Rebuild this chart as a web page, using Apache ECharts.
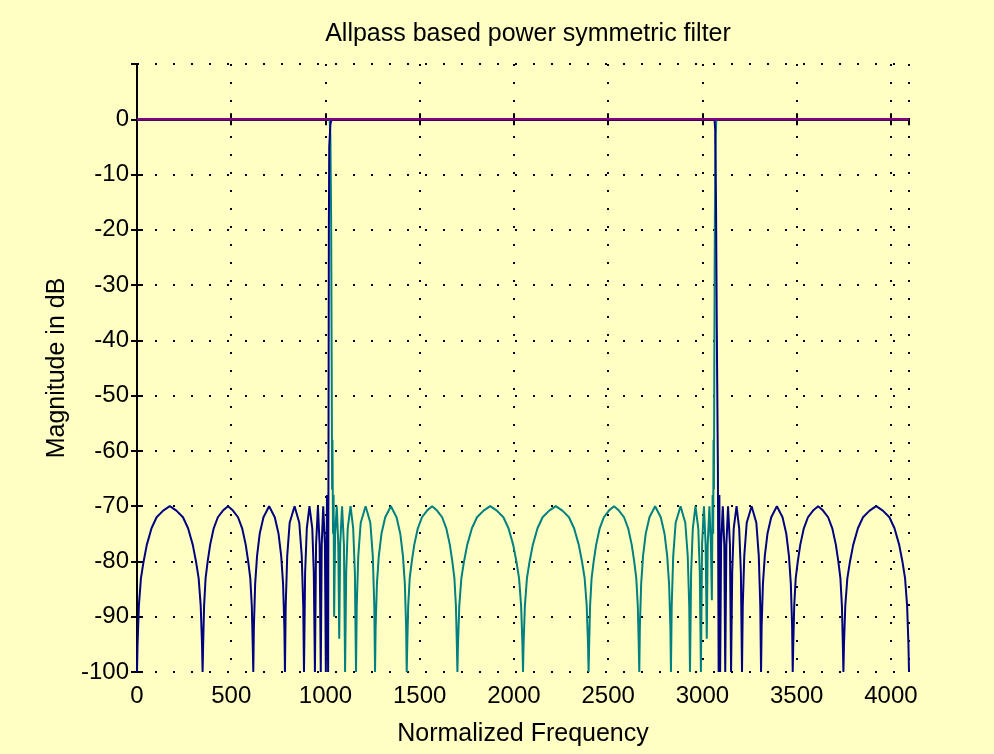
<!DOCTYPE html>
<html>
<head>
<meta charset="utf-8">
<script src="https://cdn.jsdelivr.net/npm/echarts@6/dist/echarts.min.js"></script>
<style>
html, body { margin: 0; padding: 0; background: #ffffc4; }
#chart { width: 994px; height: 754px; }
</style>
</head>
<body>
<div id="chart"></div>
<script>
// values
var xTicks = [0, 500, 1000, 1500, 2000, 2500, 3000, 3500, 4000];
var yTicks = [-100, -90, -80, -70, -60, -50, -40, -30, -20, -10, 0];

// navy curve (stopband at the two ends, passband in the middle)
var blueFreq = [
    0, 3, 10, 21, 35, 52, 77, 104, 139, 174, 209, 244, 271, 296, 313, 327, 338, 345, 348,
    351, 356, 364, 375, 388, 407, 429, 456, 483, 509, 536, 558, 577, 590, 601, 609, 614, 617,
    620, 627, 637, 651, 671, 701, 731, 751, 765, 775, 782, 785,
    789, 797, 810, 836, 861, 874, 882, 886,
    892, 901, 915, 930, 938, 944,
    950, 960, 969, 975,
    980, 988, 997, 1002,
    1008, 1014, 1016, 1018, 1020, 1026, 1032,
    3064,
    3068, 3072, 3076, 3082, 3086, 3090, 3094,
    3099, 3108, 3116, 3121,
    3127, 3136, 3146, 3152,
    3158, 3166, 3181, 3195, 3204, 3210,
    3214, 3222, 3235, 3261, 3286, 3299, 3307, 3311,
    3314, 3321, 3331, 3345, 3365, 3395, 3425, 3445, 3459, 3469, 3476, 3479,
    3482, 3487, 3495, 3506, 3519, 3538, 3560, 3587, 3614, 3640, 3667, 3689, 3708, 3721, 3732, 3740, 3745, 3748,
    3751, 3758, 3769, 3783, 3800, 3825, 3852, 3887, 3922, 3957, 3992, 4019, 4044, 4061, 4075, 4086, 4093, 4096
];
var blueMag = [
    -100, -95, -88, -83, -80, -77, -74, -72, -70.8, -70, -70.8, -72, -74, -77, -80, -83, -88, -95, -100,
    -95, -88, -83, -80, -77, -74, -72, -70.8, -70, -70.8, -72, -74, -77, -80, -83, -88, -95, -100,
    -92, -84, -79, -75, -72, -70, -72, -75, -79, -84, -92, -100,
    -88, -79, -73, -70, -73, -79, -88, -100,
    -82, -74, -70, -74, -82, -100,
    -77, -70, -77, -100,
    -77, -70, -77, -100,
    -68, -100, -60, -20, -5, -1, 0,
    0,
    -2, -15, -37, -63, -100, -68, -100,
    -77, -70, -77, -100,
    -77, -70, -77, -100,
    -82, -74, -70, -74, -82, -100,
    -88, -79, -73, -70, -73, -79, -88, -100,
    -92, -84, -79, -75, -72, -70, -72, -75, -79, -84, -92, -100,
    -95, -88, -83, -80, -77, -74, -72, -70.8, -70, -70.8, -72, -74, -77, -80, -83, -88, -95, -100,
    -95, -88, -83, -80, -77, -74, -72, -70.8, -70, -70.8, -72, -74, -77, -80, -83, -88, -95, -100
];

// teal curve (passband at the two ends, stopband in the middle)
var tealFreq = [
    0, 1022, 1026, 1030, 1033, 1035, 1037, 1040, 1043, 1046, 1051, 1060, 1068, 1073, 1078, 1088, 1098, 1104,
    1110, 1118, 1133, 1147, 1156, 1162,
    1166, 1174, 1187, 1213, 1238, 1251, 1259, 1263,
    1266, 1273, 1283, 1297, 1317, 1347, 1377, 1397, 1411, 1421, 1428, 1431,
    1434, 1439, 1447, 1458, 1471, 1490, 1512, 1539, 1566, 1592, 1619, 1641, 1660, 1673, 1684, 1692, 1697, 1700,
    1703, 1710, 1721, 1735, 1752, 1777, 1804, 1839, 1874, 1909, 1944, 1971, 1996, 2013, 2027, 2038, 2045, 2048,
    2051, 2058, 2069, 2083, 2100, 2125, 2152, 2187, 2222, 2257, 2292, 2319, 2344, 2361, 2375, 2386, 2393, 2396,
    2399, 2404, 2412, 2423, 2436, 2455, 2477, 2504, 2531, 2557, 2584, 2606, 2625, 2638, 2649, 2657, 2662, 2665,
    2668, 2675, 2685, 2699, 2719, 2749, 2779, 2799, 2813, 2823, 2830, 2833,
    2837, 2845, 2858, 2884, 2909, 2922, 2930, 2934,
    2940, 2949, 2963, 2978, 2986, 2992,
    2998, 3008, 3017, 3023,
    3028, 3037, 3045, 3050,
    3054, 3057, 3059, 3061, 3063, 3066, 3070, 3074, 4096
];
var tealMag = [
    0, 0, -3, -18, -45, -67, -58, -75, -68, -90, -75, -70, -77, -94, -77, -70, -77, -100,
    -82, -74, -70, -74, -82, -100,
    -88, -79, -73, -70, -73, -79, -88, -100,
    -92, -84, -79, -75, -72, -70, -72, -75, -79, -84, -92, -100,
    -95, -88, -83, -80, -77, -74, -72, -70.8, -70, -70.8, -72, -74, -77, -80, -83, -88, -95, -100,
    -95, -88, -83, -80, -77, -74, -72, -70.8, -70, -70.8, -72, -74, -77, -80, -83, -88, -95, -100,
    -95, -88, -83, -80, -77, -74, -72, -70.8, -70, -70.8, -72, -74, -77, -80, -83, -88, -95, -100,
    -95, -88, -83, -80, -77, -74, -72, -70.8, -70, -70.8, -72, -74, -77, -80, -83, -88, -95, -100,
    -92, -84, -79, -75, -72, -70, -72, -75, -79, -84, -92, -100,
    -88, -79, -73, -70, -73, -79, -88, -100,
    -82, -74, -70, -74, -82, -100,
    -77, -70, -77, -94,
    -77, -70, -77, -87,
    -68, -75, -58, -67, -45, -18, -3, 0, 0
];

// sum of the two, flat at 0 dB
var sumFreq = [0, 4096];
var sumMag = [0, 0];

function pairs(xs, ys) {
    var out = [];
    for (var i = 0; i < xs.length; i++) {
        out.push([xs[i], ys[i]]);
    }
    return out;
}

var font = 'Liberation Sans, Arial, sans-serif';
var gridLine = {show: true, lineStyle: {color: '#000', width: 2, type: [2, 16]}};

var myChart = echarts.init(document.getElementById('chart'));
var option = {
    animation: false,
    backgroundColor: '#ffffc4',
    title: {
        text: 'Allpass based power symmetric filter',
        left: 523,
        top: 17,
        textAlign: 'center',
        textStyle: {fontFamily: font, fontSize: 25, fontWeight: 'normal', color: '#000'}
    },
    grid: {left: 137, right: 85, top: 64, bottom: 82, show: true, backgroundColor: '#ffffc4', borderWidth: 0},
    xAxis: [
        {
            type: 'value',
            min: 0,
            max: 4096,
            interval: xTicks[1] - xTicks[0],
            name: 'Normalized Frequency',
            nameLocation: 'middle',
            nameGap: 50,
            nameTextStyle: {fontFamily: font, fontSize: 25, color: '#000'},
            axisLine: {show: true, lineStyle: {color: '#000', width: 2}},
            axisTick: {inside: true, length: 6, lineStyle: {color: '#000', width: 2}},
            axisLabel: {fontFamily: font, fontSize: 24, color: '#000', margin: 12, showMaxLabel: false,
                formatter: function (v) { return xTicks.indexOf(v) >= 0 ? String(v) : ''; }},
            splitLine: gridLine
        },
        {
            type: 'value',
            position: 'top',
            min: 0,
            max: 4096,
            interval: xTicks[1] - xTicks[0],
            axisLine: {show: true, lineStyle: {color: '#000', width: 2}},
            axisTick: {inside: true, length: 6, lineStyle: {color: '#000', width: 2}},
            axisLabel: {show: false},
            splitLine: {show: false}
        }
    ],
    yAxis: [
        {
            type: 'value',
            min: -100,
            max: 10,
            interval: yTicks[1] - yTicks[0],
            name: 'Magnitude in dB',
            nameLocation: 'middle',
            nameGap: 67,
            nameTextStyle: {fontFamily: font, fontSize: 25, color: '#000'},
            axisLine: {show: true, lineStyle: {color: '#000', width: 2}},
            axisTick: {inside: true, length: 6, lineStyle: {color: '#000', width: 2}},
            axisLabel: {fontFamily: font, fontSize: 24, color: '#000', margin: 8, showMaxLabel: false,
                formatter: function (v) { return yTicks.indexOf(v) >= 0 ? String(v) : ''; }},
            splitLine: gridLine
        },
        {
            type: 'value',
            position: 'right',
            min: -100,
            max: 10,
            interval: yTicks[1] - yTicks[0],
            axisLine: {show: true, lineStyle: {color: '#000', width: 2}},
            axisTick: {inside: true, length: 6, lineStyle: {color: '#000', width: 2}},
            axisLabel: {show: false},
            splitLine: {show: false}
        }
    ],
    series: [
        {
            name: 'H1',
            type: 'line',
            data: pairs(tealFreq, tealMag),
            showSymbol: false,
            lineStyle: {color: '#008080', width: 2},
            itemStyle: {color: '#008080'}
        },
        {
            name: 'H0',
            type: 'line',
            data: pairs(blueFreq, blueMag),
            showSymbol: false,
            lineStyle: {color: '#000080', width: 2},
            itemStyle: {color: '#000080'}
        },
        {
            name: 'sum',
            type: 'line',
            data: pairs(sumFreq, sumMag),
            showSymbol: false,
            lineStyle: {color: '#800080', width: 2.5},
            itemStyle: {color: '#800080'}
        }
    ]
};
myChart.setOption(option);
</script>
</body>
</html>
